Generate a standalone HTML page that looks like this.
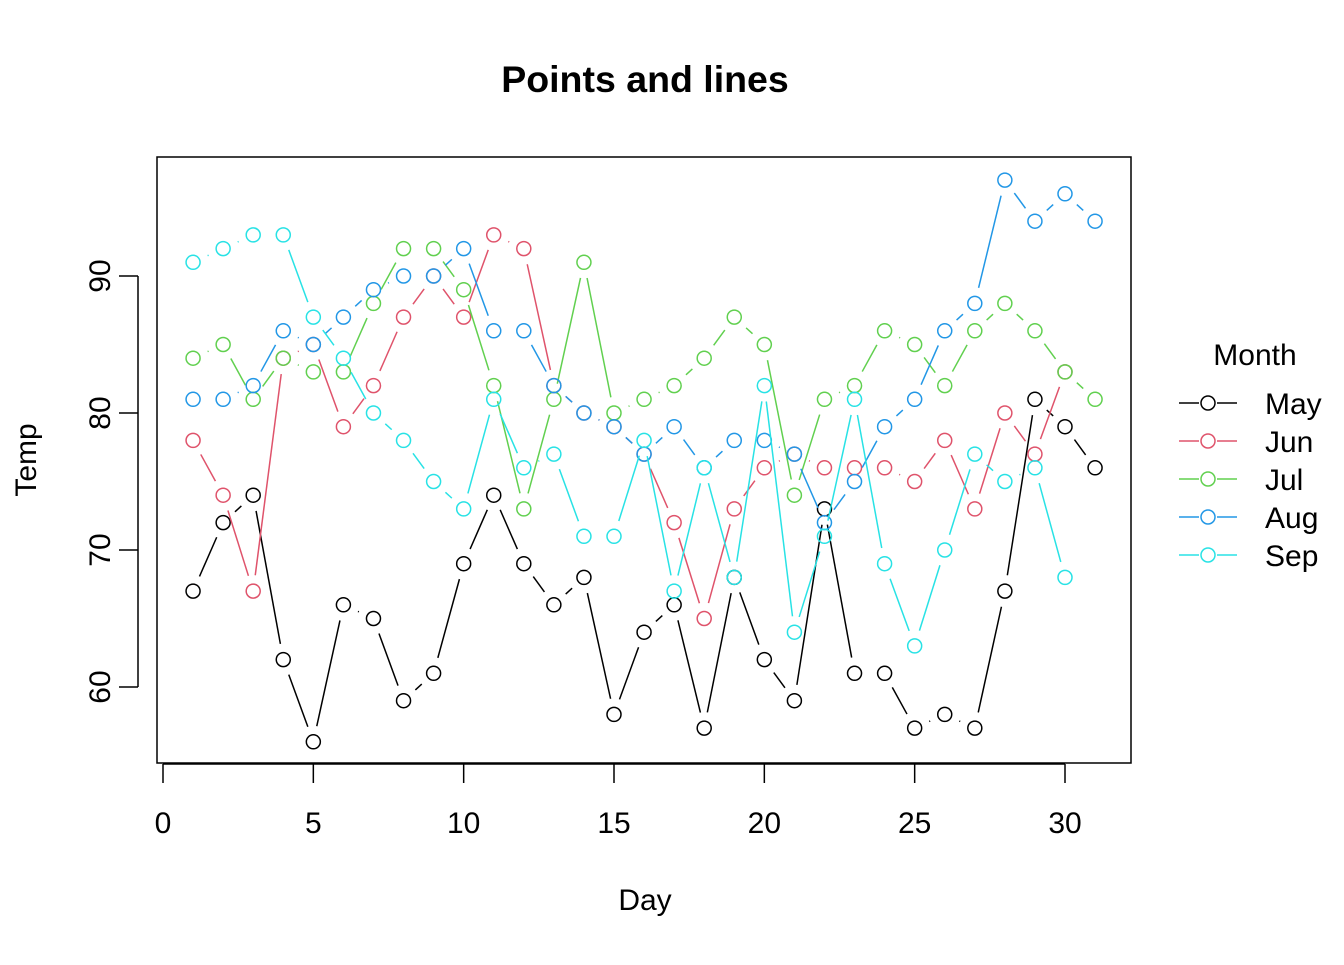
<!DOCTYPE html>
<html><head><meta charset="utf-8"><style>
body{margin:0;background:#fff}
svg text{font-family:"Liberation Sans",Arial,sans-serif}
</style></head><body>
<svg id="chart" width="1344" height="960" viewBox="0 0 1344 960" xmlns="http://www.w3.org/2000/svg">
<rect width="1344" height="960" fill="#fff"/>
<text x="645" y="92" font-size="37.5" font-weight="bold" text-anchor="middle">Points and lines</text>
<rect x="157" y="157" width="974" height="606" fill="none" stroke="#000" stroke-width="1.5"/>
<g id="xaxis"></g>
<g id="yaxis"></g>
<text x="645" y="910" font-size="30" text-anchor="middle">Day</text>
<text x="36" y="460" font-size="30" text-anchor="middle" transform="rotate(-90 36 460)">Temp</text>
<g id="series"></g>
<g id="legend">
<text x="1255" y="365" font-size="30" text-anchor="middle">Month</text>
</g>
</svg>
<script>
const months = ["May","Jun","Jul","Aug","Sep"];
const colors = ["#000000","#DF536B","#61D04F","#2297E6","#28E2E5"];
const may = [67,72,74,62,56,66,65,59,61,69,74,69,66,68,58,64,66,57,68,62,59,73,61,61,57,58,57,67,81,79,76];
const jun = [78,74,67,84,85,79,82,87,90,87,93,92,82,80,79,77,72,65,73,76,77,76,76,76,75,78,73,80,77,83];
const jul = [84,85,81,84,83,83,88,92,92,89,82,73,81,91,80,81,82,84,87,85,74,81,82,86,85,82,86,88,86,83,81];
const aug = [81,81,82,86,85,87,89,90,90,92,86,86,82,80,79,77,79,76,78,78,77,72,75,79,81,86,88,97,94,96,94];
const sep = [91,92,93,93,87,84,80,78,75,73,81,76,77,71,71,78,67,76,68,82,64,71,81,69,63,70,77,75,76,68];
const xTicks = [0,5,10,15,20,25,30];
const yTicks = [60,70,80,90];
const NS="http://www.w3.org/2000/svg";
const sx = d => 163 + d*(1065-163)/30;
const sy = v => 687 - (v-60)*(687-276)/30;
function mk(tag, attrs, parent){const e=document.createElementNS(NS,tag);for(const k in attrs)e.setAttribute(k,attrs[k]);parent.appendChild(e);return e;}
const xa=document.getElementById('xaxis');
mk('line',{x1:sx(0),x2:sx(30),y1:764,y2:764,stroke:'#000','stroke-width':1.5},xa);
xTicks.forEach(t=>{
  const l=mk('line',{x1:sx(t),x2:sx(t),y1:764,y2:783,stroke:'#000','stroke-width':1.5},xa);
  
  
  const tx=mk('text',{x:sx(t),y:833,'font-size':30,'text-anchor':'middle'},xa);
  tx.textContent=t;
  
  
});
const ya=document.getElementById('yaxis');
mk('line',{x1:138,x2:138,y1:sy(60),y2:sy(90),stroke:'#000','stroke-width':1.5},ya);
yTicks.forEach(t=>{
  const l=mk('line',{x1:119,x2:138,y1:sy(t),y2:sy(t),stroke:'#000','stroke-width':1.5},ya);
  
  
  const tx=mk('text',{x:110,y:sy(t),'font-size':30,'text-anchor':'middle',transform:`rotate(-90 110 ${sy(t)})`},ya);
  tx.textContent=t;
  
  
});
const sg=document.getElementById('series');
const data=[may,jun,jul,aug,sep];
const gap=16;
data.forEach((arr,i)=>{
  const g=mk('g',{},sg);
  
  
  for(let k=0;k<arr.length-1;k++){
    const x1=sx(k+1),y1=sy(arr[k]),x2=sx(k+2),y2=sy(arr[k+1]);
    const dx=x2-x1,dy=y2-y1,L=Math.hypot(dx,dy);
    if(L<=2*gap)continue;
    const ux=dx/L,uy=dy/L;
    const s=mk('line',{x1:x1+ux*gap,y1:y1+uy*gap,x2:x2-ux*gap,y2:y2-uy*gap,stroke:colors[i],'stroke-width':1.5},g);
    
    
  }
  arr.forEach((v,k)=>{
    const c=mk('circle',{cx:sx(k+1),cy:sy(v),r:7,fill:'none',stroke:colors[i],'stroke-width':1.5},g);
    
    
  });
});
const lg=document.getElementById('legend');
months.forEach((m,i)=>{
  const y=403+i*38;
  const g=mk('g',{},lg);
  
  
  mk('line',{x1:1179,x2:1199,y1:y,y2:y,stroke:colors[i],'stroke-width':1.5},g);
  mk('line',{x1:1217,x2:1237,y1:y,y2:y,stroke:colors[i],'stroke-width':1.5},g);
  mk('circle',{cx:1208,cy:y,r:7,fill:'none',stroke:colors[i],'stroke-width':1.5},g);
  const t=mk('text',{x:1265,y:y+11,'font-size':30},g);
  t.textContent=m;
});
</script>
</body></html>
